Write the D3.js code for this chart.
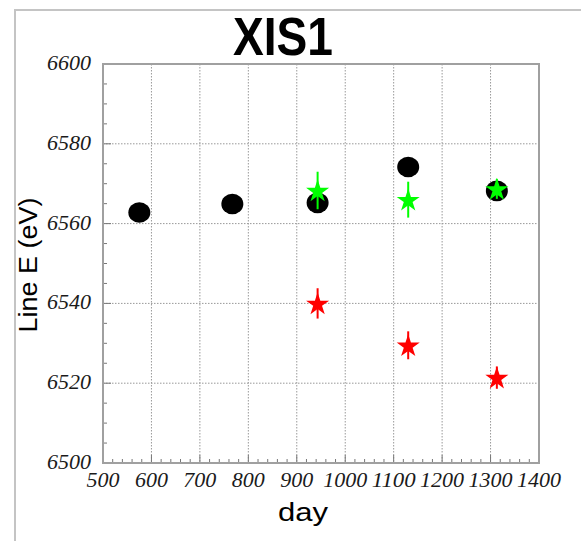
<!DOCTYPE html>
<html lang="en">
<head>
<meta charset="utf-8" />
<title>XIS1</title>
<style>
    body{ margin:0; background:#fff; }
    .tick-label{ font-family:"Liberation Serif","Times New Roman",serif; font-style:italic; font-size:20px; fill:#1a1a1a; }
</style>
</head>
<body>
<script src="https://cdn.jsdelivr.net/npm/d3@7/dist/d3.min.js"></script>
<script>
    // data
    var xTicks = [500,600,700,800,900,1000,1100,1200,1300,1400];
    var yTicks = [6500,6520,6540,6560,6580,6600];

    var blackDay = [575, 767, 943, 1130, 1313];
    var blackE   = [6562.8, 6564.9, 6565.2, 6574.2, 6568.2];

    var greenDay = [943, 1130, 1313];
    var greenE   = [6568.3, 6566.0, 6568.7];
    var greenErr = [4.7, 4.5, 2.5];

    var redDay = [943, 1130, 1313];
    var redE   = [6540.0, 6529.5, 6521.4];
    var redErr = [3.8, 3.5, 2.8];

    var width = 581, height = 541;
    var pLeft = 103, pRight = 539, pTop = 64, pBottom = 463;

    var svg = d3.select("body").append("svg")
        .attr("width", width)
        .attr("height", height);

    // outer canvas border
    svg.append("path")
        .attr("d", "M15," + height + "V10H" + width)
        .attr("fill", "none")
        .attr("stroke", "#c4c4c4")
        .attr("stroke-width", 2);

    var x = d3.scaleLinear().domain([500, 1400]).range([pLeft, pRight]);
    var y = d3.scaleLinear().domain([6500, 6600]).range([pBottom, pTop]);

    // grid
    var grid = svg.append("g");
    grid.selectAll(".gx")
        .data(xTicks.slice(1, -1))
        .enter().append("line")
        .attr("x1", d => x(d)).attr("x2", d => x(d))
        .attr("y1", pTop).attr("y2", pBottom)
        .attr("stroke", "#999").attr("stroke-width", 1)
        .attr("stroke-dasharray", "1.5,1.5");
    grid.selectAll(".gy")
        .data(yTicks.slice(1, -1))
        .enter().append("line")
        .attr("y1", d => y(d)).attr("y2", d => y(d))
        .attr("x1", pLeft).attr("x2", pRight)
        .attr("stroke", "#999").attr("stroke-width", 1)
        .attr("stroke-dasharray", "1.5,1.5");

    // minor ticks
    var xMinor = d3.range(520, 1400, 20).filter(d => d % 100 != 0);
    var yMinor = d3.range(6505, 6600, 5).filter(d => d % 20 != 0);
    svg.append("g").selectAll("line")
        .data(xMinor).enter().append("line")
        .attr("x1", d => x(d)).attr("x2", d => x(d))
        .attr("y1", pBottom).attr("y2", pBottom - 4)
        .attr("stroke", "#777").attr("stroke-width", 1);
    svg.append("g").selectAll("line")
        .data(yMinor).enter().append("line")
        .attr("y1", d => y(d)).attr("y2", d => y(d))
        .attr("x1", pLeft).attr("x2", pLeft + 4)
        .attr("stroke", "#777").attr("stroke-width", 1);
    // major ticks
    svg.append("g").selectAll("line")
        .data(xTicks).enter().append("line")
        .attr("x1", d => x(d)).attr("x2", d => x(d))
        .attr("y1", pBottom).attr("y2", pBottom - 8)
        .attr("stroke", "#777").attr("stroke-width", 1);
    svg.append("g").selectAll("line")
        .data(yTicks).enter().append("line")
        .attr("y1", d => y(d)).attr("y2", d => y(d))
        .attr("x1", pLeft).attr("x2", pLeft + 8)
        .attr("stroke", "#777").attr("stroke-width", 1);

    // frame
    svg.append("rect")
        .attr("x", pLeft).attr("y", pTop)
        .attr("width", pRight - pLeft).attr("height", pBottom - pTop)
        .attr("fill", "none")
        .attr("stroke", "#a0a0a0").attr("stroke-width", 2);

    // tick labels
    svg.append("g").selectAll("text")
        .data(xTicks).enter().append("text")
        .attr("class", "tick-label")
        .attr("x", d => x(d)).attr("y", 487)
        .attr("text-anchor", "middle")
        .attr("textLength", d => String(d).length * 11)
        .attr("lengthAdjust", "spacingAndGlyphs")
        .text(d => d);
    svg.append("g").selectAll("text")
        .data(yTicks).enter().append("text")
        .attr("class", "tick-label")
        .attr("x", 91).attr("y", d => y(d) + 6)
        .attr("text-anchor", "end")
        .attr("textLength", 44)
        .attr("lengthAdjust", "spacingAndGlyphs")
        .text(d => d);

    // titles
    svg.append("text")
        .attr("x", 283).attr("y", 55)
        .attr("text-anchor", "middle")
        .attr("font-family", "Liberation Sans, Arial, sans-serif")
        .attr("font-weight", "bold")
        .attr("font-size", 53)
        .attr("textLength", 100)
        .attr("lengthAdjust", "spacingAndGlyphs")
        .text("XIS1");
    svg.append("text")
        .attr("x", 303).attr("y", 521)
        .attr("text-anchor", "middle")
        .attr("font-family", "Liberation Sans, Arial, sans-serif")
        .attr("font-size", 25)
        .attr("textLength", 50)
        .attr("lengthAdjust", "spacingAndGlyphs")
        .text("day");
    svg.append("text")
        .attr("transform", "translate(37,265) rotate(-90)")
        .attr("text-anchor", "middle")
        .attr("font-family", "Liberation Sans, Arial, sans-serif")
        .attr("font-size", 25)
        .attr("textLength", 135)
        .attr("lengthAdjust", "spacingAndGlyphs")
        .text("Line E (eV)");

    // black points
    svg.append("g").selectAll("ellipse")
        .data(blackDay).enter().append("ellipse")
        .attr("cx", d => x(d))
        .attr("cy", (d, i) => y(blackE[i]))
        .attr("rx", 11).attr("ry", 10.3)
        .attr("fill", "#000");

    var star = d3.symbol().type(d3.symbolStar).size(165);

    function drawStars(days, vals, errs, color) {
        var g = svg.append("g");
        g.selectAll("line")
            .data(days).enter().append("line")
            .attr("x1", d => x(d)).attr("x2", d => x(d))
            .attr("y1", (d, i) => y(vals[i] - errs[i]))
            .attr("y2", (d, i) => y(vals[i] + errs[i]))
            .attr("stroke", color).attr("stroke-width", 2);
        g.selectAll("path")
            .data(days).enter().append("path")
            .attr("d", star)
            .attr("transform", (d, i) => "translate(" + x(d) + "," + (y(vals[i]) + 1) + ")")
            .attr("fill", color);
    }
    drawStars(greenDay, greenE, greenErr, "#00ff00");
    drawStars(redDay, redE, redErr, "#ff0000");
</script>
</body>
</html>
